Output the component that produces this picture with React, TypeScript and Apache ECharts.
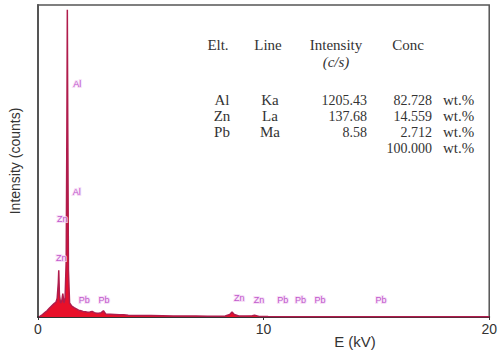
import React, { useEffect, useRef } from "react";
import * as echarts from "echarts";

// Spectrum (energy in kV, intensity in counts)
const energy = [0.05, 0.1, 0.2, 0.3, 0.4, 0.5, 0.6, 0.7, 0.8, 0.85, 0.9, 0.92, 0.95, 1.0, 1.05, 1.1, 1.15, 1.2, 1.25, 1.28, 1.3, 1.32, 1.35, 1.4, 1.5, 1.6, 1.7, 1.8, 1.9, 2.0, 2.1, 2.2, 2.3, 2.4, 2.5, 2.6, 2.7, 2.8, 2.9, 3.0, 3.2, 3.4, 3.6, 3.8, 4.0, 4.5, 5.0, 5.5, 6.0, 6.5, 7.0, 7.5, 8.0, 8.3, 8.5, 8.6, 8.7, 8.9, 9.2, 9.5, 9.6, 9.8, 10.2, 11, 12, 14, 16, 18, 20];
const counts = [0, 3, 8, 14, 20, 28, 35, 42, 48, 60, 110, 150, 70, 45, 50, 75, 45, 60, 180, 600, 985, 600, 150, 45, 35, 30, 26, 22, 20, 18, 17, 15, 16, 18, 14, 12, 12, 14, 20, 10, 9, 8, 7, 7, 6, 5, 4.5, 4, 3.5, 3, 3, 2.5, 2.5, 3, 8, 16, 8, 3, 3, 4, 6, 2, 1.5, 1, 1, 1, 1, 0.5, 0.5];

// Peak labels
const peakNames = ["Al", "Al", "Zn", "Zn", "Pb", "Pb", "Zn", "Zn", "Pb", "Pb", "Pb", "Pb"];
const peakE = [1.74, 1.72, 1.08, 1.03, 2.05, 2.92, 8.92, 9.8, 10.85, 11.63, 12.5, 15.2];
const peakY = [747, 400, 314, 189, 54, 54, 61, 55, 55, 55, 55, 55];

// Quantification table
const tableHeader = ["Elt.", "Line", "Intensity", "Conc"];
const tableSub = "(c/s)";
const elements = ["Al", "Zn", "Pb"];
const lines = ["Ka", "La", "Ma"];
const intensities = ["1205.43", "137.68", "8.58"];
const concs = ["82.728", "14.559", "2.712"];
const total = "100.000";
const unit = "wt.%";

export default function App() {
  const ref = useRef<HTMLDivElement>(null);
  useEffect(() => {
    if (!ref.current) return;
    document.body.style.margin = "0";
    const chart = echarts.init(ref.current, undefined, { renderer: "svg" });
    const serif = "'Liberation Serif', 'Times New Roman', serif";
    const sans = "'Liberation Sans', Arial, sans-serif";
    const tColor = "#333";
    const g: any[] = [];
    const hx = [218, 268, 336, 408];
    tableHeader.forEach((t, i) =>
      g.push({ type: "text", x: hx[i], y: 45, style: { text: t, font: `15px ${serif}`, fill: tColor, textAlign: "center", textVerticalAlign: "middle" } })
    );
    g.push({ type: "text", x: 336, y: 62, style: { text: tableSub, font: `italic 15px ${serif}`, fill: tColor, textAlign: "center", textVerticalAlign: "middle" } });
    const rowY = [100, 116, 132];
    elements.forEach((el, i) => {
      const y = rowY[i];
      g.push({ type: "text", x: 222, y, style: { text: el, font: `15px ${serif}`, fill: tColor, textAlign: "center", textVerticalAlign: "middle" } });
      g.push({ type: "text", x: 270, y, style: { text: lines[i], font: `15px ${serif}`, fill: tColor, textAlign: "center", textVerticalAlign: "middle" } });
      g.push({ type: "text", x: 367, y, style: { text: intensities[i], font: `14px ${serif}`, fill: tColor, textAlign: "right", textVerticalAlign: "middle" } });
      g.push({ type: "text", x: 432, y, style: { text: concs[i], font: `14px ${serif}`, fill: tColor, textAlign: "right", textVerticalAlign: "middle" } });
      g.push({ type: "text", x: 443, y, style: { text: unit, font: `15px ${serif}`, fill: tColor, textAlign: "left", textVerticalAlign: "middle" } });
    });
    g.push({ type: "text", x: 432, y: 148, style: { text: total, font: `14px ${serif}`, fill: tColor, textAlign: "right", textVerticalAlign: "middle" } });
    g.push({ type: "text", x: 443, y: 148, style: { text: unit, font: `15px ${serif}`, fill: tColor, textAlign: "left", textVerticalAlign: "middle" } });
    g.push({ type: "text", x: 355, y: 341, style: { text: "E (kV)", font: `15px ${sans}`, fill: "#333", textAlign: "center", textVerticalAlign: "middle" } });

    chart.setOption({
      animation: false,
      backgroundColor: "#fff",
      grid: { left: 33, right: 8, top: 5, bottom: 43, show: true, borderColor: "#555", borderWidth: 1.5 },
      xAxis: {
        type: "value",
        min: 0,
        max: 20,
        interval: 10,
        splitLine: { show: false },
        axisLine: { lineStyle: { color: "#333", width: 2 } },
        axisTick: { show: true, length: 3, lineStyle: { color: "#333" } },
        axisLabel: { color: "#333", fontSize: 14, fontFamily: sans, margin: 5 },
      },
      yAxis: {
        type: "value",
        min: 0,
        max: 1000,
        name: "Intensity (counts)",
        nameLocation: "middle",
        nameGap: 16,
        nameTextStyle: { color: "#333", fontSize: 14, fontFamily: sans },
        splitLine: { show: false },
        axisLine: { show: true, lineStyle: { color: "#555", width: 2 } },
        axisTick: { show: false },
        axisLabel: { show: false },
      },
      graphic: g,
      series: [
        {
          type: "line",
          data: energy.map((e, i) => [e, counts[i]]),
          symbol: "none",
          lineStyle: { color: "#b01c4c", width: 1.5 },
          areaStyle: { color: "#e8102a", opacity: 1 },
          z: 2,
        },
        {
          type: "scatter",
          symbolSize: 0,
          data: peakNames.map((n, i) => ({ name: n, value: [peakE[i], peakY[i]] })),
          label: {
            show: true,
            position: "inside",
            formatter: "{b}",
            color: "#b030c0",
            fontSize: 9,
            fontFamily: sans,
            textBorderColor: "#f6d8f6",
            textBorderWidth: 2,
          },
          z: 3,
        },
      ],
    });
    return () => chart.dispose();
  }, []);
  return <div ref={ref} style={{ width: 500, height: 360 }} />;
}
